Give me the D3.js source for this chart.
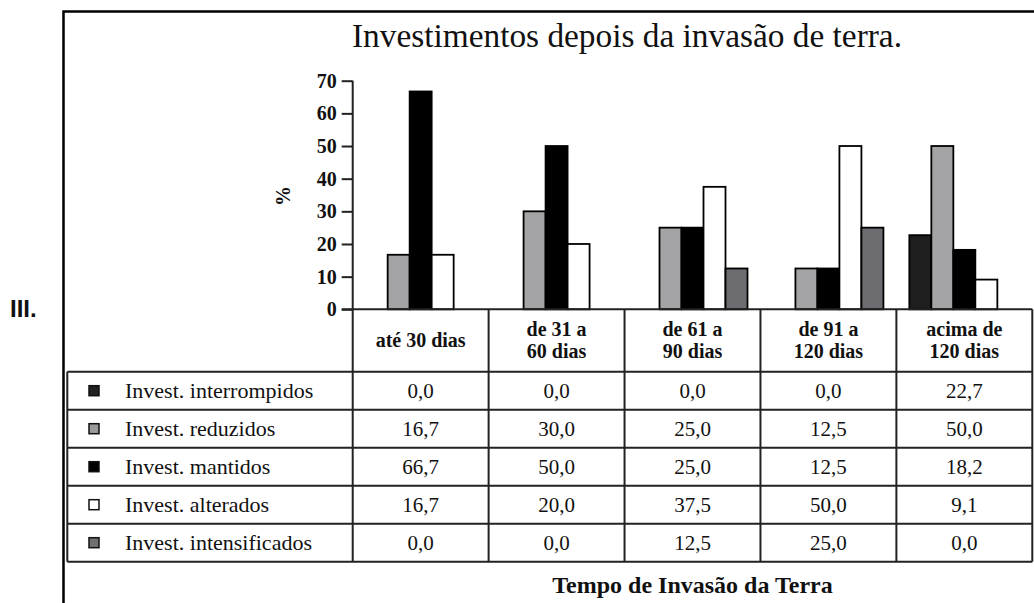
<!DOCTYPE html>
<html>
<head>
<meta charset="utf-8">
<script src="https://cdn.jsdelivr.net/npm/d3@7"></script>
<style>
    body { margin: 0; background: #fff; }
    text { font-family: "Liberation Serif", "Times New Roman", serif; fill: #111; }
</style>
</head>
<body>
<div id="chart"></div>
<script>
// data
var categories = ["até 30 dias", "de 31 a 60 dias", "de 61 a 90 dias", "de 91 a 120 dias", "acima de 120 dias"];
var categoryLines = [["até 30 dias"], ["de 31 a", "60 dias"], ["de 61 a", "90 dias"], ["de 91 a", "120 dias"], ["acima de", "120 dias"]];
var series = ["Invest. interrompidos", "Invest. reduzidos", "Invest. mantidos", "Invest. alterados", "Invest. intensificados"];

var interrompidos = [0.0, 0.0, 0.0, 0.0, 22.7];
var reduzidos = [16.7, 30.0, 25.0, 12.5, 50.0];
var mantidos = [66.7, 50.0, 25.0, 12.5, 18.2];
var alterados = [16.7, 20.0, 37.5, 50.0, 9.1];
var intensificados = [0.0, 0.0, 12.5, 25.0, 0.0];

var yTicks = [0, 10, 20, 30, 40, 50, 60, 70];

var seriesValues = [interrompidos, reduzidos, mantidos, alterados, intensificados];
var barFill = ["#1e1e1e", "#a4a4a7", "#000000", "#ffffff", "#6c6c71"];
var keyFill = ["#222222", "#9a9a9a", "#000000", "#ffffff", "#707070"];

var width = 1034;
var height = 603;

var plotLeft = 352.7;
var plotRight = 1032.3;
var baseY = 309.3;
var topY = 80.7;
var rowTop = 371.7;
var rowH = 38;
var tableBottom = rowTop + rowH * series.length;
var legendLeft = 67.3;
var groupWidth = 110;

var svg = d3.select("#chart").append("svg")
    .attr("width", width)
    .attr("height", height);

// frame
svg.append("path")
    .attr("d", "M63.5," + height + "V11.5H" + width)
    .attr("fill", "none")
    .attr("stroke", "#000")
    .attr("stroke-width", 2.5);

svg.append("text")
    .attr("x", 10)
    .attr("y", 317)
    .style("font-family", "'Liberation Sans', Arial, sans-serif")
    .attr("font-size", 24)
    .attr("font-weight", "bold")
    .attr("fill", "#000")
    .text("III.");

svg.append("text")
    .attr("x", 352)
    .attr("y", 47)
    .attr("font-size", 33)
    .attr("textLength", 550)
    .attr("lengthAdjust", "spacingAndGlyphs")
    .text("Investimentos depois da invasão de terra.");

var x0 = d3.scaleBand().domain(categories).range([plotLeft, plotRight]);
var x1 = d3.scaleBand().domain(series).range([0, groupWidth]);
var y = d3.scaleLinear().domain([0, 70]).range([baseY, topY]);
var groupOffset = (x0.bandwidth() - groupWidth) / 2;

// y axis
var yAxis = svg.append("g")
    .attr("transform", "translate(" + plotLeft + ",0)")
    .call(d3.axisLeft(y).tickValues(yTicks).tickSize(11).tickPadding(5));
yAxis.select(".domain").remove();
yAxis.selectAll(".tick line").attr("stroke", "#222").attr("stroke-width", 2);
yAxis.selectAll(".tick text")
    .attr("font-size", 20)
    .attr("font-weight", "bold")
    .style("font-family", "'Liberation Serif', serif")
    .attr("fill", "#111");

svg.append("text")
    .attr("transform", "translate(290,196) rotate(-90)")
    .attr("text-anchor", "middle")
    .attr("font-size", 20)
    .attr("font-weight", "bold")
    .text("%");

// bars
var bars = [];
series.forEach(function (s, i) {
    categories.forEach(function (c, j) {
        var v = seriesValues[i][j];
        if (v > 0) bars.push({ series: s, cat: c, value: v, fill: barFill[i] });
    });
});

svg.append("g").selectAll("rect")
    .data(bars)
    .enter()
    .append("rect")
    .attr("x", function (d) { return x0(d.cat) + groupOffset + x1(d.series); })
    .attr("y", function (d) { return y(d.value); })
    .attr("width", x1.bandwidth())
    .attr("height", function (d) { return baseY - y(d.value); })
    .attr("fill", function (d) { return d.fill; })
    .attr("stroke", "#000")
    .attr("stroke-width", 1.8);

// table lines
var lines = svg.append("g")
    .attr("stroke", "#222")
    .attr("stroke-width", 2)
    .attr("fill", "none");

lines.append("line")
    .attr("x1", plotLeft - 11).attr("x2", plotRight)
    .attr("y1", baseY).attr("y2", baseY);

lines.append("line")
    .attr("x1", plotLeft).attr("x2", plotLeft)
    .attr("y1", topY).attr("y2", tableBottom);

d3.range(series.length + 1).forEach(function (i) {
    lines.append("line")
        .attr("x1", legendLeft).attr("x2", plotRight)
        .attr("y1", rowTop + i * rowH).attr("y2", rowTop + i * rowH);
});

lines.append("line")
    .attr("x1", legendLeft).attr("x2", legendLeft)
    .attr("y1", rowTop).attr("y2", tableBottom);

categories.forEach(function (c) {
    var xr = x0(c) + x0.bandwidth();
    lines.append("line")
        .attr("x1", xr).attr("x2", xr)
        .attr("y1", baseY).attr("y2", tableBottom);
});

// header
categories.forEach(function (c, j) {
    var cx = x0(c) + x0.bandwidth() / 2;
    var rows = categoryLines[j];
    var mid = (baseY + rowTop) / 2;
    rows.forEach(function (t, k) {
        svg.append("text")
            .attr("x", cx)
            .attr("y", mid + 6.5 + (k - (rows.length - 1) / 2) * 22.5)
            .attr("text-anchor", "middle")
            .attr("font-size", 20)
            .attr("font-weight", "bold")
            .text(t);
    });
});

// legend rows + values
var fmt = d3.format(".1f");
series.forEach(function (s, i) {
    var cy = rowTop + i * rowH + rowH / 2;

    svg.append("rect")
        .attr("x", 89)
        .attr("y", cy - 5)
        .attr("width", 10)
        .attr("height", 10)
        .attr("fill", keyFill[i])
        .attr("stroke", "#111")
        .attr("stroke-width", 1.5);

    svg.append("text")
        .attr("x", 125)
        .attr("y", cy + 7)
        .attr("font-size", 22)
        .text(s);

    categories.forEach(function (c, j) {
        svg.append("text")
            .attr("x", x0(c) + x0.bandwidth() / 2)
            .attr("y", cy + 7)
            .attr("text-anchor", "middle")
            .attr("font-size", 21)
            .text(fmt(seriesValues[i][j]).replace(".", ","));
    });
});

svg.append("text")
    .attr("x", (plotLeft + plotRight) / 2)
    .attr("y", 593)
    .attr("text-anchor", "middle")
    .attr("font-size", 24)
    .attr("font-weight", "bold")
    .text("Tempo de Invasão da Terra");
</script>
</body>
</html>
